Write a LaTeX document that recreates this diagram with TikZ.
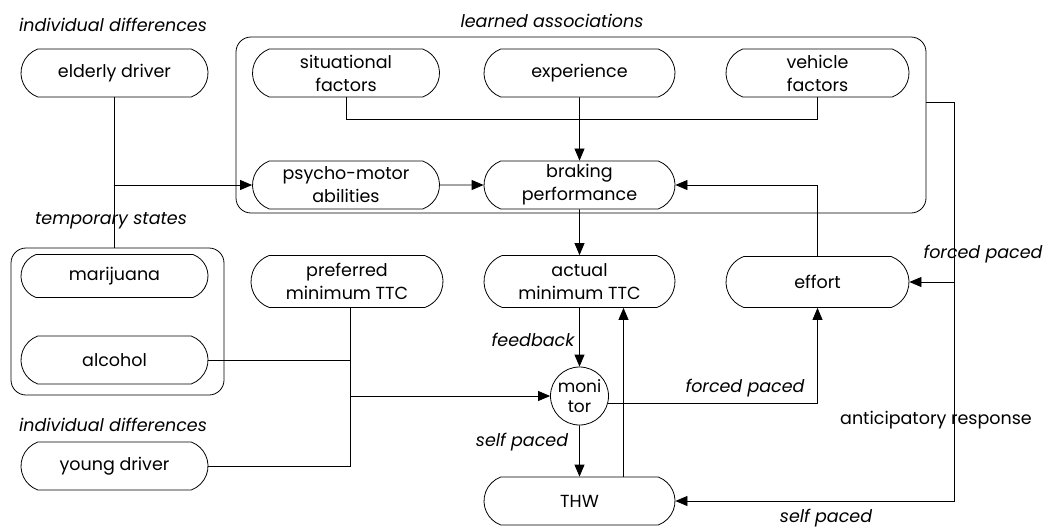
\documentclass[tikz,border=0pt]{standalone}
\usepackage{fontspec}
\setmainfont{Poppins}
\usetikzlibrary{shapes.misc,arrows.meta}
\newcommand{\fs}{\fontsize{17.5}{23}\selectfont}
\tikzset{
  blob/.style={draw, rounded rectangle, rounded rectangle arc length=140,
    minimum width=187pt, minimum height=48pt, inner sep=0pt, align=center, font=\fs},
  group/.style={draw, rounded corners=15pt, inner sep=0pt},
  lbl/.style={font=\fs\itshape, inner sep=0pt},
  plain/.style={font=\fs, inner sep=0pt},
  arr/.style={-{Triangle[length=12pt,width=10pt]}},
  every path/.style={line width=0.8pt}
}
\begin{document}
\begin{tikzpicture}[x=1pt,y=-1pt]
\useasboundingbox (0,0) rectangle (1057,528);

% grouping boxes
\node[group, minimum width=690pt, minimum height=176pt] (learnbox) at (581,125) {};
\node[group, minimum width=213pt, minimum height=147pt] (tempbox) at (117.5,321.5) {};

% factor nodes
\node[blob] (elderly) at (114.5,73) {elderly driver};
\node[blob] (situational) at (346,73) {situational\\factors};
\node[blob, minimum width=191pt] (experience) at (579.5,73) {experience};
\node[blob, minimum width=183pt] (vehicle) at (817.5,73) {vehicle\\factors};
\node[blob] (psycho) at (346,185) {psycho-motor\\abilities};
\node[blob, minimum width=191pt] (braking) at (579.5,185) {braking\\performance};
\node[blob, minimum height=43pt] (marijuana) at (114.5,276) {marijuana};
\node[blob] (alcohol) at (114.5,360) {alcohol};
\node[blob, minimum width=192pt, minimum height=52pt] (preferred) at (347,281.5) {preferred\\minimum TTC};
\node[blob, minimum width=191pt, minimum height=52pt] (actual) at (579.5,281.5) {actual\\minimum TTC};
\node[blob, minimum width=183pt, minimum height=51pt] (effort) at (817.5,282) {effort};
\node[blob] (young) at (114.5,466) {young driver};
\node[draw, circle, minimum size=58pt, inner sep=0pt, align=center, font=\fontsize{17}{20}\selectfont] (monitor) at (579.5,396) {moni\\tor};
\node[blob, minimum width=191pt] (thw) at (579.5,501) {THW};

% group labels
\node[lbl] (lid1) at (113,25) {individual differences};
\node[lbl] (llearn) at (552,21) {learned associations};
\node[lbl] (ltemp) at (111,221) {temporary states};
\node[lbl] (lid2) at (113,425) {individual differences};

% connector labels
\node[lbl] (lfeed) at (533,340) {feedback};
\node[lbl] (lself1) at (522,442) {self paced};
\node[lbl] (lforced1) at (745,388) {forced paced};
\node[lbl] (lforced2) at (983,254) {forced paced};
\node[plain] (lantic) at (936,420) {anticipatory response};
\node[lbl] (lself2) at (826,518) {self paced};

% connectors
\draw (elderly.south) -- (elderly.south |- tempbox.north);
\draw[arr] (elderly.south |- psycho.west) -- (psycho.west);
\draw (situational.south) -- ++(0,22) -| (vehicle.south);
\draw[arr] (experience) -- (braking);
\draw[arr] (psycho) -- (braking);
\draw[arr] (braking) -- (actual);
\draw[arr] (effort.north) |- (braking.east);
\coordinate (rx) at (954,102);
\draw[arr] (learnbox.east |- rx) -- (rx) |- (thw.east);
\draw[arr] (rx |- effort.east) -- (effort.east);
\draw[arr] (actual) -- (monitor);
\draw[arr] (monitor) -- (thw);
\draw[arr] ([xshift=44pt]thw.north) -- ([xshift=44pt]actual.south);
\draw[arr] (monitor.-14) -| (effort.south);
\coordinate (pj) at ([xshift=3pt]preferred.south);
\draw (pj) |- (young.east);
\draw (alcohol.east) -- (alcohol.east -| pj);
\draw[arr] (pj |- monitor.west) -- (monitor.west);
\end{tikzpicture}
\end{document}
